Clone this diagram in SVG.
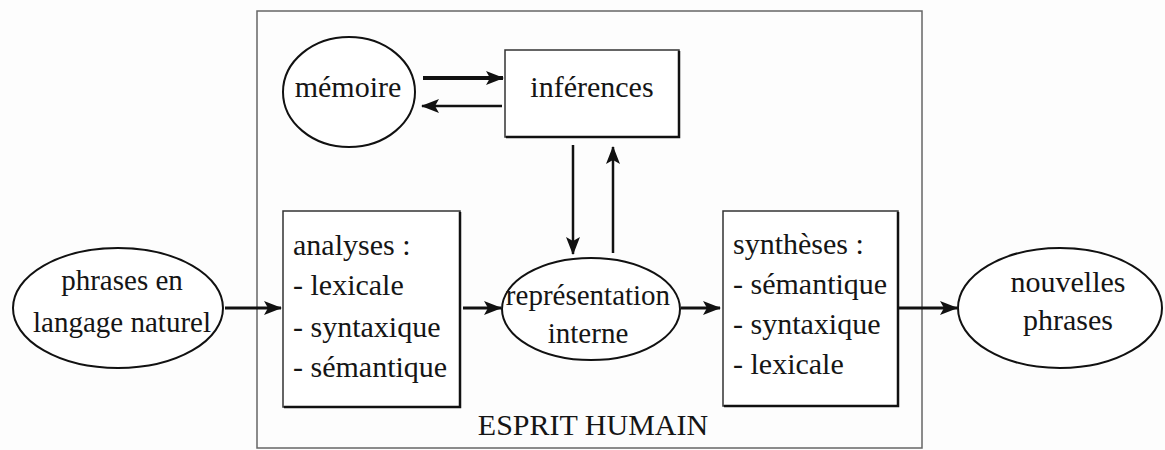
<svg xmlns="http://www.w3.org/2000/svg" width="1165" height="450" viewBox="0 0 1165 450">
  <defs>
    <style>
      .t { font-family: "Liberation Serif", "Times New Roman", serif; font-size: 30px; fill: #151515; }
      .s29 { font-size: 29px; }
      .mid { text-anchor: middle; }
      .shape { fill: #fff; stroke: #111; stroke-width: 2; }
      .box { fill: #fff; stroke: #333; stroke-width: 1.5; }
      .shadow { fill: none; stroke: #111; stroke-width: 2.5; }
      .arr { stroke: #111; fill: none; marker-end: url(#ah); }
    </style>
    <marker id="ah" markerUnits="userSpaceOnUse" markerWidth="18" markerHeight="14" refX="17" refY="7" orient="auto">
      <path d="M0,0 L18,7 L0,14 L4,7 z" fill="#111"/>
    </marker>
  </defs>
  <rect width="1165" height="450" fill="#fdfdfd"/>

  <g id="esprit-humain">
    <rect x="257" y="11" width="665" height="437" fill="#fdfdfd" stroke="#666" stroke-width="1.5"/>
    <text class="t mid" x="593" y="435">ESPRIT HUMAIN</text>
  </g>

  <g id="memoire">
    <ellipse class="shape" cx="349" cy="92" rx="66" ry="55"/>
    <text class="t mid" x="348" y="97">mémoire</text>
  </g>

  <g id="inferences">
    <rect class="box" x="505" y="50" width="174" height="87"/>
    <path class="shadow" d="M679,51 V137 H506"/>
    <text class="t mid" x="592" y="97">inférences</text>
  </g>

  <g id="phrases">
    <ellipse class="shape" cx="118" cy="308" rx="105" ry="60"/>
    <text class="t s29 mid" x="122" y="290">phrases en</text>
    <text class="t s29 mid" x="122" y="332">langage naturel</text>
  </g>

  <g id="analyses">
    <rect class="box" x="283" y="211" width="177" height="196"/>
    <path class="shadow" d="M460,212 V407 H284"/>
    <text class="t" x="293" y="255">analyses :</text>
    <text class="t" x="293" y="295">- lexicale</text>
    <text class="t" x="293" y="337">- syntaxique</text>
    <text class="t" x="293" y="377">- sémantique</text>
  </g>

  <g id="representation">
    <ellipse class="shape" cx="591" cy="309" rx="89" ry="51"/>
    <text class="t s29 mid" x="588" y="305">représentation</text>
    <text class="t s29 mid" x="588" y="343">interne</text>
  </g>

  <g id="syntheses">
    <rect class="box" x="723" y="211" width="175" height="195"/>
    <path class="shadow" d="M898,212 V406 H724"/>
    <text class="t" x="733" y="254">synthèses :</text>
    <text class="t" x="733" y="294">- sémantique</text>
    <text class="t" x="733" y="334">- syntaxique</text>
    <text class="t" x="733" y="374">- lexicale</text>
  </g>

  <g id="nouvelles">
    <ellipse class="shape" cx="1060" cy="308" rx="102" ry="60"/>
    <text class="t mid" x="1068" y="292">nouvelles</text>
    <text class="t mid" x="1068" y="330">phrases</text>
  </g>

  <g id="connectors">
    <line class="arr" x1="423" y1="78" x2="503" y2="78" stroke-width="4"/>
    <line class="arr" x1="502" y1="106" x2="422" y2="106" stroke-width="2.5"/>
    <line class="arr" x1="573" y1="145" x2="573" y2="254" stroke-width="2.5"/>
    <line class="arr" x1="613" y1="253" x2="613" y2="147" stroke-width="2.5"/>
    <line class="arr" x1="225" y1="308" x2="281" y2="308" stroke-width="3"/>
    <line class="arr" x1="463" y1="308" x2="501" y2="308" stroke-width="3"/>
    <line class="arr" x1="681" y1="308" x2="720" y2="308" stroke-width="3"/>
    <line class="arr" x1="899" y1="308" x2="957" y2="308" stroke-width="3"/>
  </g>
</svg>
